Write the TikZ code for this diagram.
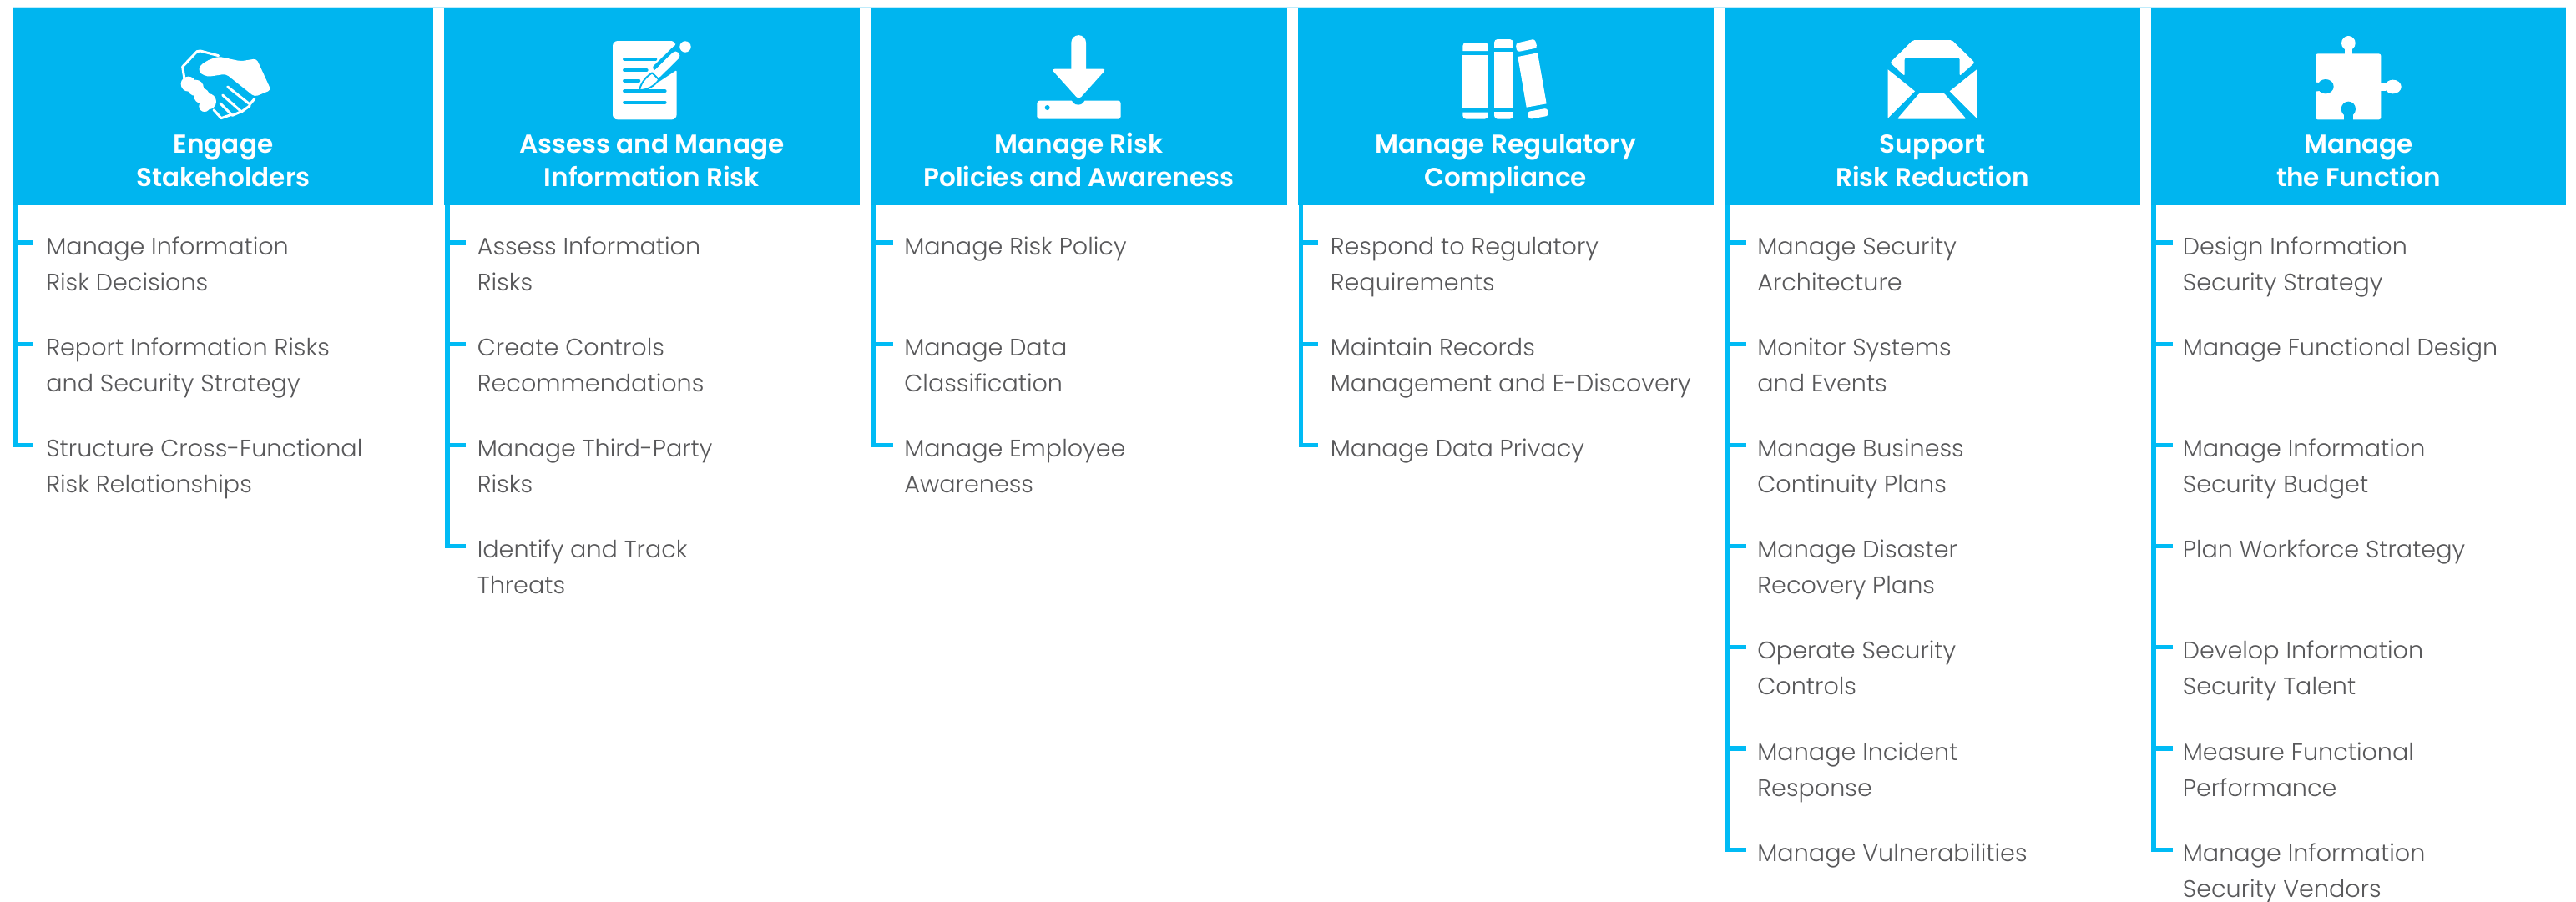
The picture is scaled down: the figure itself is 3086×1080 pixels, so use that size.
\documentclass[tikz,border=0pt]{standalone}
\usepackage{fontspec}
\newfontfamily\itemfont{Poppins Light}
\newfontfamily\headfont{Poppins SemiBold}
\definecolor{headblue}{HTML}{00B5EF}
\definecolor{lineblue}{HTML}{00BBF5}
\definecolor{paleblue}{HTML}{BFECFB}
\definecolor{itemgray}{HTML}{58585A}
\newcommand{\twoline}[2]{\begin{tabular}[t]{@{}#1@{}}#2\end{tabular}}
\tikzset{
  headbox/.style={fill=headblue,draw=none,inner sep=0pt,anchor=north west},
  headtitle/.style={anchor=base,inner sep=0pt,text=white,font=\fontsize{17.7pt}{23.1pt}\selectfont\headfont},
  itemtext/.style={anchor=base west,inner sep=0pt,text=itemgray,font=\fontsize{16.3pt}{24.47pt}\selectfont\itemfont},
  connector/.style={draw=lineblue,line width=3pt},
  icon/.style={fill=white,draw=none},
  iconcut/.style={fill=headblue,draw=none},
  iconline/.style={draw=white,line width=1.7pt,line cap=round,line join=round},
  cutline/.style={draw=headblue,line width=2.2pt,line cap=round},
}
\newcommand{\riskitem}[6]{%
  \pgfmathsetmacro\ry{291+121.2*#5}%
  \node[itemtext] (#1) at (#4,\ry+14) {\twoline{l}{#6}};
  \coordinate (#1s) at (#2,\ry);
  \coordinate (#1t) at (#3,\ry);
  \draw[connector] (#1s) -- (#1t);
}
\newcommand{\riskhead}[5]{%
  \node[headbox,minimum width=#3*0.02cm,minimum height=237*0.02cm] (h#1) at (#2,9) {};
  \pgfmathsetmacro\cx{#2+#3/2}%
  \node[headtitle] (t#1) at (\cx,183) {\twoline{c}{#4\\#5}};
}
\begin{document}
\begin{tikzpicture}[x=0.02cm,y=-0.02cm]
\useasboundingbox (0,0) rectangle (3086,1080);
\fill[white] (0,0) rectangle (3086,1080);
\coordinate (ruleA) at (16,8.5);
\coordinate (ruleB) at (3074,8.5);
\draw[paleblue,line width=0.57pt] (ruleA) -- (ruleB);
% headers
\riskhead{1}{16}{503}{Engage}{Stakeholders}
\riskhead{2}{532}{498}{Assess and Manage}{Information Risk}
\riskhead{3}{1043}{499}{Manage Risk}{Policies and Awareness}
\riskhead{4}{1555}{498}{Manage Regulatory}{Compliance}
\riskhead{5}{2066}{498}{Support}{Risk Reduction}
\riskhead{6}{2577}{497}{Manage}{the Function}
% column 1
\riskitem{a1}{18.5}{40}{55}{0}{Manage Information\\Risk Decisions}
\riskitem{a2}{18.5}{40}{55}{1}{Report Information Risks\\and Security Strategy}
\riskitem{a3}{18.5}{40}{55}{2}{Structure Cross-Functional\\Risk Relationships}
\coordinate (sa) at (18.5,246);
\draw[connector] (sa) |- (a3t);
% column 2
\riskitem{b1}{536}{558}{571.5}{0}{Assess Information\\Risks}
\riskitem{b2}{536}{558}{571.5}{1}{Create Controls\\Recommendations}
\riskitem{b3}{536}{558}{571.5}{2}{Manage Third-Party\\Risks}
\riskitem{b4}{536}{558}{571.5}{3}{Identify and Track\\Threats}
\coordinate (sb) at (536,246);
\draw[connector] (sb) |- (b4t);
% column 3
\riskitem{c1}{1046}{1069.5}{1083}{0}{Manage Risk Policy}
\riskitem{c2}{1046}{1069.5}{1083}{1}{Manage Data\\Classification}
\riskitem{c3}{1046}{1069.5}{1083}{2}{Manage Employee\\Awareness}
\coordinate (sc) at (1046,246);
\draw[connector] (sc) |- (c3t);
% column 4
\riskitem{d1}{1558.5}{1579}{1593.5}{0}{Respond to Regulatory\\Requirements}
\riskitem{d2}{1558.5}{1579}{1593.5}{1}{Maintain Records\\Management and E-Discovery}
\riskitem{d3}{1558.5}{1579}{1593.5}{2}{Manage Data Privacy}
\coordinate (sd) at (1558.5,246);
\draw[connector] (sd) |- (d3t);
% column 5
\riskitem{e1}{2069}{2091.5}{2105}{0}{Manage Security\\Architecture}
\riskitem{e2}{2069}{2091.5}{2105}{1}{Monitor Systems\\and Events}
\riskitem{e3}{2069}{2091.5}{2105}{2}{Manage Business\\Continuity Plans}
\riskitem{e4}{2069}{2091.5}{2105}{3}{Manage Disaster\\Recovery Plans}
\riskitem{e5}{2069}{2091.5}{2105}{4}{Operate Security\\Controls}
\riskitem{e6}{2069}{2091.5}{2105}{5}{Manage Incident\\Response}
\riskitem{e7}{2069}{2091.5}{2105}{6}{Manage Vulnerabilities}
\coordinate (se) at (2069,246);
\draw[connector] (se) |- (e7t);
% column 6
\riskitem{f1}{2580}{2603}{2614.5}{0}{Design Information\\Security Strategy}
\riskitem{f2}{2580}{2603}{2614.5}{1}{Manage Functional Design}
\riskitem{f3}{2580}{2603}{2614.5}{2}{Manage Information\\Security Budget}
\riskitem{f4}{2580}{2603}{2614.5}{3}{Plan Workforce Strategy}
\riskitem{f5}{2580}{2603}{2614.5}{4}{Develop Information\\Security Talent}
\riskitem{f6}{2580}{2603}{2614.5}{5}{Measure Functional\\Performance}
\riskitem{f7}{2580}{2603}{2614.5}{6}{Manage Information\\Security Vendors}
\coordinate (sf) at (2580,246);
\draw[connector] (sf) |- (f7t);
% handshake
\begin{scope}[shift={(190,30)},x=0.02cm/3,y=-0.02cm/3]
\draw[iconline] (92,188) -- (86,150) -- (138,95) -- (150,93) -- (215,110);
\fill[icon,rounded corners=2.2pt] (215,113) -- (295,130) -- (352,121) -- (404,234) -- (345,258) -- (242,176) -- (175,186) -- (144,170) -- (148,146) -- (178,126) -- cycle;
\fill[icon] (107,212) circle (27) (133,226) circle (29) (155,255) circle (28) (178,275) circle (29) (165,292) circle (20);
\draw[iconline] (248,222) -- (328,285) -- (345,265);
\draw[iconline] (230,252) -- (298,312) -- (328,290);
\draw[iconline] (222,282) -- (265,325) -- (295,312);
\draw[iconline] (198,305) -- (225,335) -- (262,322);
\end{scope}
% document and pen
\begin{scope}[shift={(710,30)},x=0.02cm/3,y=-0.02cm/3]
\fill[icon] [rounded corners=3.4pt] (72,200) -- (72,57) -- (299,57) [rounded corners=0.8pt] -- (297,70) -- (215,150) -- (236,206) -- (302,162) [rounded corners=3.4pt] -- (302,340) -- (72,340) -- cycle;
\draw[cutline] (114,122) -- (226,122);
\draw[cutline] (114,162) -- (194,162);
\draw[cutline] (114,200) -- (166,200);
\draw[cutline] (114,238) -- (260,238);
\draw[cutline] (114,278) -- (260,278);
\fill[icon] (333,78) circle (20);
\draw[white,line width=5.8pt,line cap=round] (298,110) -- (232,175);
\filldraw[fill=white,draw=headblue,line width=1.1pt,line join=round] (214,172) .. controls (185,190) and (172,215) .. (168,234) .. controls (195,235) and (225,218) .. (238,196) -- cycle;
\end{scope}
% arrow and tray
\begin{scope}[shift={(1220,30)},x=0.02cm/3,y=-0.02cm/3]
\fill[icon,rounded corners=1.8pt] (67,272) rectangle (368,338);
\fill[iconcut] (215,262) circle (25);
\fill[iconcut] (104,297) circle (9);
\fill[icon,rounded corners=2.4pt] (118,158) -- (316,158) -- (217,268) -- cycle;
\fill[icon] (190,165) -- (190,63) arc[start angle=180,end angle=360,radius=26.5] -- (243,165) -- cycle;
\end{scope}
% books
\begin{scope}[shift={(1730,30)},x=0.02cm/3,y=-0.02cm/3]
\fill[icon] (67,93) -- (67,75) arc[start angle=180,end angle=270,radius=12] -- (146,63) arc[start angle=270,end angle=360,radius=12] -- (158,93) -- cycle;
\fill[icon] (67,108) rectangle (158,298);
\fill[icon] (67,314) -- (158,314) -- (158,326) arc[start angle=0,end angle=90,radius=12] -- (79,338) arc[start angle=90,end angle=180,radius=12] -- cycle;
\fill[icon] (180,82) -- (180,63) arc[start angle=180,end angle=270,radius=12] -- (236,51) arc[start angle=270,end angle=360,radius=12] -- (248,82) -- cycle;
\fill[icon] (180,96) rectangle (248,296);
\fill[icon] (180,312) -- (248,312) -- (248,326) arc[start angle=0,end angle=90,radius=12] -- (192,338) arc[start angle=90,end angle=180,radius=12] -- cycle;
\fill[icon,rounded corners=1.8pt] (257,66) -- (326,50) -- (335,82) -- (262,97) -- cycle;
\fill[icon] (265,114) -- (336,100) -- (368,283) -- (296,296) -- cycle;
\fill[icon,rounded corners=1.8pt] (299,312) -- (371,299) -- (376,326) -- (305,339) -- cycle;
\end{scope}
% envelope
\begin{scope}[shift={(2240,30)},x=0.02cm/3,y=-0.02cm/3]
\fill[icon,rounded corners=1.2pt] (155,54) -- (295,54) -- (377,135) -- (323,183) -- (323,118) -- (125,118) -- (125,183) -- (73,135) -- cycle;
\fill[icon] (65,160) -- (162,238) -- (65,335) -- cycle;
\fill[icon] (384,160) -- (287,238) -- (384,335) -- cycle;
\fill[icon,rounded corners=1.2pt] (180,243) -- (265,243) -- (347,338) -- (98,338) -- cycle;
\end{scope}
% puzzle piece
\begin{scope}[shift={(2750,30)},x=0.02cm/3,y=-0.02cm/3]
\fill[icon,rounded corners=1.5pt] (72,103) rectangle (307,340);
\fill[icon] (190,65) ellipse (25 and 26);
\fill[icon] (176,110) -- (176,85) -- (204,85) -- (204,110) -- cycle;
\fill[icon] (350,222) ellipse (30 and 25);
\fill[icon] (300,208) -- (325,208) -- (325,236) -- (300,236) -- cycle;
\fill[iconcut] (108,221) ellipse (29 and 26);
\fill[iconcut] (66,205) -- (90,208) -- (90,236) -- (66,240) -- cycle;
\fill[iconcut] (190,302) ellipse (26 and 27);
\fill[iconcut] (174,346) -- (174,315) -- (206,315) -- (206,346) -- cycle;
\end{scope}
\end{tikzpicture}
\end{document}
